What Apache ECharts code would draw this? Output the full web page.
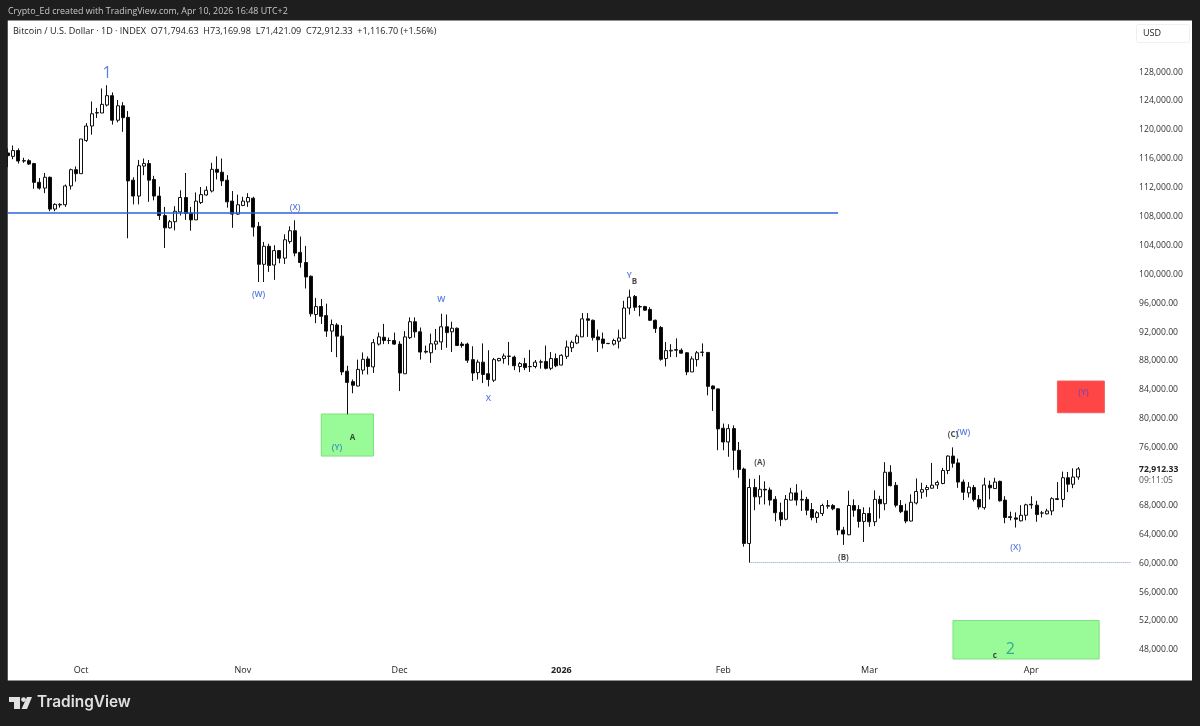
<!DOCTYPE html>
<html>
<head>
<meta charset="utf-8">
<style>html,body{margin:0;padding:0;background:#1e1e1e}#chart{width:1200px;height:726px}</style>
<script src="https://cdn.jsdelivr.net/npm/echarts@6/dist/echarts.min.js"></script>
</head>
<body>
<div id="chart"></div>
<script>
// Daily Bitcoin / USD candles in thousands of dollars, Sep 17 2025 to Apr 10 2026
const firstDay = '2025-09-17';
const categoryCount = 216;
const openK = [
116.66,116.2,117.0,115.6,115.6,115.2,112.6,111.8,113.3,108.9,
109.46,109.5,112.1,114.35,113.8,118.4,120.4,122.25,122.2,123.3,
124.6,121.2,123.2,121.6,112.9,110.7,114.85,115.2,113.0,110.7,
108.0,106.3,107.15,108.5,110.5,108.35,107.4,109.8,110.85,111.4,
114.4,114.0,112.9,110.0,108.2,109.4,109.9,110.4,106.5,101.25,
103.75,101.15,103.15,102.1,104.4,105.9,102.9,101.5,99.6,94.3,
95.4,94.15,92.0,92.85,91.3,86.45,85.0,84.4,86.6,88.15,
87.05,90.2,91.15,90.7,90.7,90.2,86.1,91.1,93.3,91.9,
89.2,89.0,90.2,90.5,92.6,91.9,92.4,90.2,90.2,88.05,
86.25,87.7,86.1,85.2,87.9,88.2,88.5,88.4,87.1,87.5,
87.1,87.1,87.7,87.8,86.85,88.2,87.3,88.5,89.7,90.35,
91.2,93.7,93.5,91.2,90.9,90.3,90.2,90.6,91.0,95.2,
96.8,95.35,95.4,95.0,93.5,92.5,88.2,89.25,89.35,89.35,
89.0,86.35,88.05,89.05,89.05,84.4,84.0,78.55,76.65,78.5,
75.5,72.9,62.6,70.35,69.05,70.1,70.0,68.7,66.9,65.95,
68.6,69.6,68.7,68.7,67.3,66.2,66.75,67.75,67.85,67.4,
64.45,63.8,67.85,67.3,65.65,66.75,65.6,68.7,68.1,72.46,
70.65,67.85,67.1,65.7,68.2,69.7,70.05,70.25,70.7,70.9,
72.7,74.7,73.75,71.1,69.6,70.35,68.7,67.55,70.66,70.2,
71.2,68.6,66.3,66.14,65.73,66.5,68.03,67.9,66.8,66.7,
67.1,68.8,68.7,71.7,70.8,71.79463];
const closeK = [
116.29,117.0,115.55,115.55,115.13,112.6,111.8,113.3,108.9,109.55,
109.55,112.1,114.35,113.8,118.6,120.4,122.1,122.2,123.4,124.6,
121.2,123.2,121.55,112.8,110.7,114.9,115.2,112.9,110.7,108.0,
106.3,107.15,108.6,110.5,108.3,107.4,110.0,110.9,111.5,114.4,
114.0,112.8,109.9,108.2,109.5,110.0,110.5,106.4,101.25,103.75,
101.1,103.15,102.1,104.65,105.9,102.8,101.5,99.5,94.4,95.4,
94.05,92.0,92.9,91.3,86.35,84.9,84.5,86.7,88.1,87.1,
90.4,91.2,90.7,90.7,90.2,86.2,91.2,93.3,91.9,89.1,
89.1,90.25,90.6,92.6,91.8,92.4,90.0,90.0,87.96,86.2,
87.7,86.0,85.3,88.05,88.2,88.55,88.55,87.2,87.5,86.95,
87.07,87.7,87.75,86.85,88.2,87.2,88.65,89.8,90.45,91.3,
93.7,93.5,91.1,90.8,90.3,90.27,90.7,91.05,95.2,96.7,
95.3,95.4,94.9,93.5,92.35,88.1,89.3,89.35,89.45,88.95,
86.35,88.15,89.0,89.1,84.35,84.0,78.46,76.65,78.5,75.5,
72.85,62.6,70.35,69.05,70.1,70.0,68.6,66.85,65.9,68.7,
69.6,68.6,68.6,67.2,66.2,66.85,67.85,67.85,67.4,64.45,
63.9,67.85,67.2,65.65,66.75,65.6,68.7,68.1,72.46,70.6,
67.9,67.0,65.7,68.3,69.8,70.05,70.35,70.66,71.05,72.7,
74.7,73.7,71.1,69.7,70.4,68.7,67.65,70.7,70.3,71.1,
68.5,66.2,66.2,65.96,66.5,67.95,67.94,66.6,66.83,67.1,
68.8,68.7,71.7,70.8,71.8,72.91233];
const highK = [
117.3,117.7,117.3,116.0,115.8,115.3,113.2,113.9,113.4,109.7,
109.7,112.3,114.5,114.8,118.6,120.8,123.8,122.9,125.6,126.05,
125.05,124.0,123.7,122.47,113.3,115.7,115.9,115.7,113.5,112.0,
109.2,107.4,109.3,111.5,113.9,109.2,111.2,111.95,112.05,115.3,
116.2,115.9,113.6,111.4,110.9,110.6,111.1,110.6,107.1,104.35,
104.1,103.9,103.2,105.4,106.5,107.35,105.1,103.8,99.7,96.6,
96.45,95.8,93.6,93.1,92.85,87.2,85.3,88.05,89.05,88.5,
90.9,91.8,93.0,91.1,91.8,90.6,92.0,93.9,93.9,92.5,
90.0,91.65,92.3,94.4,94.3,93.3,92.5,90.5,90.4,89.9,
88.05,90.3,89.35,88.3,88.3,88.9,90.5,88.6,87.7,88.3,
89.4,88.0,88.05,90.0,89.1,88.9,88.8,90.7,90.7,91.55,
94.5,94.5,93.6,92.2,91.8,90.35,90.95,92.2,96.2,97.74,
97.0,95.6,95.5,95.3,93.6,92.7,90.5,90.2,91.0,89.6,
89.1,88.5,89.25,90.3,89.1,84.5,84.05,79.2,79.1,78.95,
76.65,73.1,71.55,71.55,72.05,71.2,70.35,69.15,68.25,69.3,
70.3,70.8,69.95,69.05,68.2,67.1,68.1,68.6,68.05,67.5,
64.9,69.9,68.7,67.9,67.6,67.6,69.95,69.2,73.85,73.43,
71.1,68.6,68.1,69.4,71.6,71.0,70.7,73.75,71.3,73.06,
74.8,75.9,74.35,71.45,71.1,70.7,69.3,71.7,71.3,71.7,
71.3,69.14,67.0,66.9,67.9,68.1,69.14,68.5,67.1,67.4,
69.0,71.1,72.55,72.5,73.0,73.16998];
const lowK = [
114.7,115.8,115.2,115.3,115.0,111.7,111.6,111.1,108.6,108.6,
109.1,109.2,111.6,112.7,113.8,118.2,119.2,121.5,122.2,123.1,
120.6,120.9,119.6,104.85,109.55,109.55,113.6,109.9,110.1,107.4,
103.5,106.2,105.95,108.0,107.4,105.9,107.4,109.6,110.75,111.2,
113.0,112.1,109.1,106.3,108.1,109.3,109.2,105.1,98.8,98.8,
100.2,99.1,101.4,101.3,104.1,102.35,100.8,97.9,94.0,93.1,
93.0,91.2,89.1,88.4,85.9,80.5,83.4,84.35,86.0,86.0,
86.2,90.0,90.2,90.2,90.1,83.7,86.1,90.9,91.1,88.05,
88.9,87.6,89.4,89.4,89.7,89.1,90.0,89.7,87.6,85.1,
85.3,84.8,84.35,84.95,87.8,87.5,87.27,86.6,86.3,86.6,
86.35,86.85,86.8,86.7,86.6,87.0,87.27,88.15,89.1,90.2,
91.2,91.2,90.7,89.1,89.6,90.2,90.0,89.6,90.9,94.3,
94.8,94.05,94.8,93.4,91.75,87.9,87.1,88.4,88.4,88.9,
85.9,86.35,87.1,88.5,83.1,80.95,75.5,75.5,74.6,72.75,
71.7,62.15,59.9,67.2,68.0,68.0,67.85,65.65,65.0,65.8,
68.6,67.85,67.1,66.5,65.8,65.45,66.4,67.4,67.2,63.75,
62.4,63.75,66.3,64.8,62.8,64.9,65.0,66.05,67.2,70.5,
67.6,66.8,65.4,65.65,68.0,68.8,69.05,70.2,70.15,70.8,
72.2,73.1,70.3,68.6,68.95,68.4,67.3,67.3,68.7,70.15,
68.4,65.4,65.8,64.8,65.65,65.8,67.4,65.6,66.2,66.6,
66.5,68.6,67.6,69.7,70.25,71.42109];

const priceTicks = [128000,124000,120000,116000,112000,108000,104000,100000,96000,92000,88000,84000,80000,76000,68000,64000,60000,56000,52000,48000];
const lastPrice = 72912.33;
const monthNames = ['Jan','Feb','Mar','Apr','May','Jun','Jul','Aug','Sep','Oct','Nov','Dec'];

// Wave annotations: [text, day, price, kind]
const waveLabels = [
  ['1','2025-10-06',127720,'bigBlue'],
  ['(X)','2025-11-11',109170,'blue'],
  ['(W)','2025-11-04',96990,'blue'],
  ['(Y)','2025-11-19',75820,'teal'],
  ['A','2025-11-22',77270,'dark'],
  ['W','2025-12-09',96300,'blue'],
  ['X','2025-12-18',82600,'blue'],
  ['Y','2026-01-14',99620,'blue'],
  ['B','2026-01-15',98860,'dark'],
  ['(A)','2026-02-08',73810,'dark'],
  ['(B)','2026-02-24',60590,'dark'],
  ['(C)','2026-03-17',77660,'dark'],
  ['(W)','2026-03-19',77940,'blue'],
  ['(X)','2026-03-29',61980,'blue'],
  ['(Y)','2026-04-11',83430,'purple'],
  ['2','2026-03-28',47860,'bigTeal'],
  ['c','2026-03-25',47030,'dark']
];
const greenZones = [
  {from:'2025-11-16', to:'2025-11-26', top:80520, bottom:74700},
  {from:'2026-03-17', to:'2026-04-14', top:51920, bottom:46600}
];
const redZones = [
  {from:'2026-04-06', to:'2026-04-15', top:85090, bottom:80700}
];
const blueLevel = {from:'2025-09-17', to:'2026-02-23', price:108400};
const dottedLevel = {from:'2026-02-06', to:'2026-04-20', price:60000};

const headerText = 'Crypto_Ed created with TradingView.com, Apr 10, 2026 16:48 UTC+2';
const legendText = 'Bitcoin / U.S. Dollar · 1D · INDEX  O71,794.63  H73,169.98  L71,421.09  C72,912.33  +1,116.70 (+1.56%)';
const countdownText = '09:11:05';

const FONT = '"Open Sans", sans-serif';
const labelStyles = {
  blue:{color:'#2a5ad6',fontSize:8.5,fontWeight:600},
  teal:{color:'#1f78c4',fontSize:8.5,fontWeight:600},
  dark:{color:'#1a1a1a',fontSize:8,fontWeight:'bold'},
  purple:{color:'#5f45c8',fontSize:8.5,fontWeight:600},
  bigBlue:{color:'#2f62d8',fontSize:16},
  bigTeal:{color:'#159a90',fontSize:16}
};

const categories = [];
{
  const d = new Date(firstDay + 'T00:00:00Z');
  for (let i = 0; i < categoryCount; i++) {
    categories.push(d.toISOString().slice(0,10));
    d.setUTCDate(d.getUTCDate() + 1);
  }
}
const candleData = openK.map((o,i)=>[o*1000, closeK[i]*1000, lowK[i]*1000, highK[i]*1000]);
const zoneArea = (z, fill, border) => [
  {xAxis:z.from, yAxis:z.top, itemStyle:{color:fill, borderColor:border, borderWidth:1, opacity:1}},
  {xAxis:z.to, yAxis:z.bottom}
];

const chart = echarts.init(document.getElementById('chart'), null, {renderer:'canvas'});
chart.setOption({
  animation:false,
  backgroundColor:'#1e1e1e',
  textStyle:{fontFamily:FONT},
  grid:{left:5.39, top:22, width:1127.7, height:637, containLabel:false},
  xAxis:{
    type:'category', data:categories, boundaryGap:true,
    axisLine:{show:false}, axisTick:{show:false}, splitLine:{show:false},
    axisLabel:{
      color:'#222222', fontSize:9, fontFamily:FONT, margin:7, hideOverlap:false,
      interval:(i,v)=>v.slice(8)==='01',
      formatter:(v)=>{
        const m=+v.slice(5,7);
        return m===1?'{y|'+v.slice(0,4)+'}':monthNames[m-1];
      },
      rich:{y:{fontWeight:'bold',fontSize:9,color:'#222222',fontFamily:FONT}}
    }
  },
  yAxis:{
    type:'value', position:'right', min:46600, max:134800, scale:true,
    axisLine:{show:false}, axisTick:{show:false}, splitLine:{show:false},
    axisLabel:{
      customValues:priceTicks.concat([lastPrice]),
      color:'#333333', fontSize:8.6, fontFamily:FONT, margin:6, align:'left', padding:[2,0,0,0],
      formatter:(v)=>{
        const s=v.toLocaleString('en-US',{minimumFractionDigits:2,maximumFractionDigits:2});
        return v===lastPrice?'{b|'+s+'}':s;
      },
      rich:{b:{fontWeight:'bold',fontSize:8.6,color:'#222222',fontFamily:FONT}}
    }
  },
  graphic:[
    {type:'rect',z:-10,silent:true,shape:{x:7.5,y:20.5,width:1184.5,height:660},style:{fill:'#ffffff'}},
    {type:'rect',z:100,silent:true,shape:{x:0,y:0,width:7.5,height:726},style:{fill:'#1e1e1e'}},
    {type:'text',z:101,silent:true,style:{x:8,y:7,text:headerText,fill:'#c8c8c8',font:'8.9px '+FONT}},
    {type:'text',z:101,silent:true,style:{x:13,y:27,text:legendText,fill:'#222222',font:'9.05px '+FONT}},
    {type:'rect',z:101,silent:true,shape:{x:1136.5,y:24.5,width:53,height:18,r:2},style:{fill:'#ffffff',stroke:'#f0f0f0',lineWidth:1}},
    {type:'text',z:102,silent:true,style:{x:1143,y:29,text:'USD',fill:'#222222',font:'9px '+FONT}},
    {type:'text',z:102,silent:true,style:{x:1139,y:476,text:countdownText,fill:'#555555',font:'8.6px '+FONT}},
    {type:'polygon',z:102,silent:true,shape:{points:[[9,697],[20,697],[20,709],[14,709],[14,702],[9,702]]},style:{fill:'#e0e0e0'}},
    {type:'circle',z:102,silent:true,shape:{cx:23.5,cy:699.6,r:2.4},style:{fill:'#e0e0e0'}},
    {type:'polygon',z:102,silent:true,shape:{points:[[27,697],[32,697],[27,709],[21.5,709]]},style:{fill:'#e0e0e0'}},
    {type:'text',z:102,silent:true,style:{x:37,y:694.5,text:'TradingView',fill:'#e0e0e0',font:'600 15.4px Inter, sans-serif'}}
  ],
  series:[
    {
      type:'candlestick', name:'BTCUSD', data:candleData, barWidth:3.5, clip:true,
      itemStyle:{color:'#ffffff', color0:'#000000', borderColor:'#111111', borderColor0:'#111111', borderWidth:1},
      markArea:{silent:true, z:1, data:
        greenZones.map(z=>zoneArea(z,'#98fb98','#7ee07e')).concat(redZones.map(z=>zoneArea(z,'#ff4646','#f06060')))
      },
      markLine:{silent:true, symbol:'none', animation:false, label:{show:false}, data:[
        [{xAxis:blueLevel.from,yAxis:blueLevel.price,lineStyle:{color:'#2f62d8',width:1.6,type:'solid'}},{xAxis:blueLevel.to,yAxis:blueLevel.price}],
        [{xAxis:dottedLevel.from,yAxis:dottedLevel.price,lineStyle:{color:'#7f9ad8',width:1,type:'dotted'}},{xAxis:dottedLevel.to,yAxis:dottedLevel.price}]
      ]}
    },
    {
      type:'scatter', name:'waves', symbolSize:0, z:10, silent:true, clip:false,
      data:waveLabels.map(w=>({
        value:[w[1],w[2]],
        label:Object.assign({show:true,position:'inside',formatter:w[0],fontFamily:FONT},labelStyles[w[3]])
      }))
    }
  ]
});
</script>
</body>
</html>
